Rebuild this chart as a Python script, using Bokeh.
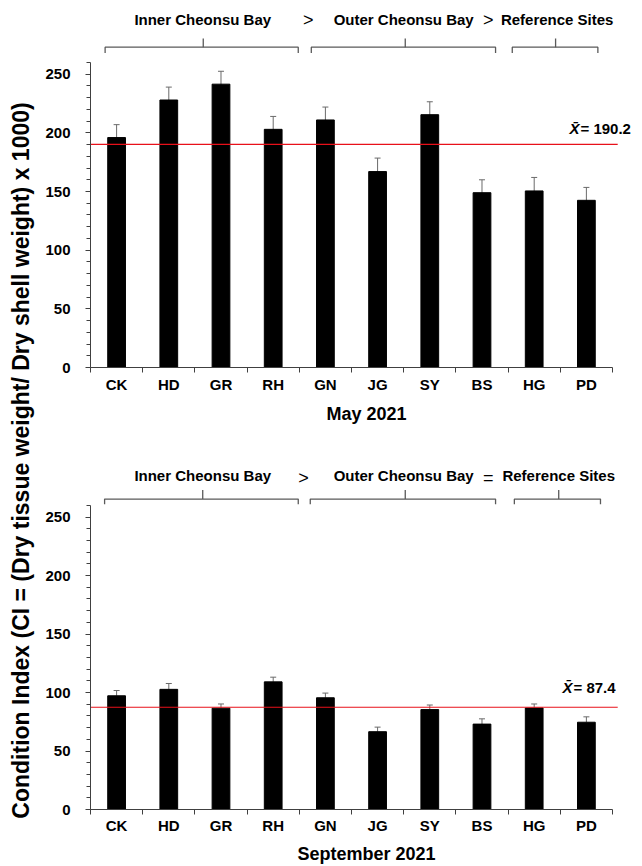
import numpy as np
from math import pi
from bokeh.plotting import figure
from bokeh.models import Range1d, FixedTicker, Whisker, TeeHead, ColumnDataSource, Label
from bokeh.layouts import row, column
from bokeh.core.properties import value
from bokeh.embed import file_html
from bokeh.resources import INLINE

# ---------------- data ----------------
sites = ["CK", "HD", "GR", "RH", "GN", "JG", "SY", "BS", "HG", "PD"]
may_ci = [196, 228, 241.5, 203, 211, 167, 215.5, 149, 150.5, 142.5]
may_err = [11, 11, 11, 11, 11, 11.5, 11, 11, 11.5, 11]
may_mean = 190.2
sep_ci = [97.2, 102.7, 86.6, 109.1, 95.5, 66.5, 85.4, 73.0, 86.8, 74.6]
sep_err = [4.5, 5.0, 3.6, 4.0, 4.0, 3.9, 3.9, 4.5, 3.4, 4.6]
sep_mean = 87.4
y_ticks = [0, 50, 100, 150, 200, 250]
groups = ["Inner Cheonsu Bay", "Outer Cheonsu Bay", "Reference Sites"]
may_signs = [">", ">"]
sep_signs = [">", "="]
y_label = "Condition Index (CI = (Dry tissue weight/ Dry shell weight) x 1000)"

FONT = "Liberation Sans"
AXIS_COLOR = "#404040"
BRACKET_COLOR = "#5a5a5a"
ERR_COLOR = "#6a6a6a"


def panel(vals, errs, mean, xlabel, signs, height, border_top, border_bottom, lab_standoff,
          axlab_standoff, ann, lower_err, mean_xoff, mean_yoff):
    n = len(sites)
    centers = list(np.arange(n) + 0.5)
    p = figure(width=604, height=height, x_range=Range1d(0, n + 0.575), y_range=Range1d(0, 306),
               min_border_left=52, min_border_right=0, min_border_top=border_top,
               min_border_bottom=border_bottom, toolbar_location=None,
               output_backend="svg", outline_line_color=None)
    p.grid.visible = False
    src = ColumnDataSource(dict(x=centers, top=vals,
                                upper=[v + e for v, e in zip(vals, errs)],
                                lower=[v - e for v, e in zip(vals, errs)] if lower_err else vals))
    p.vbar(x="x", top="top", width=0.34, source=src, fill_color="black", line_color="black")
    w = Whisker(base="x", upper="upper", lower="lower", source=src, line_color=ERR_COLOR,
                line_width=1,
                upper_head=TeeHead(size=6, line_color=ERR_COLOR, line_width=1),
                lower_head=TeeHead(size=6, line_color=ERR_COLOR, line_width=1) if lower_err else None)
    p.add_layout(w)
    # mean line from the y axis to just past the last category
    p.segment(x0=[0], x1=[n + 0.1], y0=[mean], y1=[mean], line_color="#e8101a", line_width=1.2)
    p.add_layout(Label(x=n, y=mean, text="X\u0304", text_align="left",
                       text_baseline="bottom", x_offset=mean_xoff, y_offset=mean_yoff,
                       text_font=FONT, text_font_size="15px", text_font_style="bold italic",
                       text_color="black"))
    p.add_layout(Label(x=n, y=mean, text="= " + f"{mean}", text_align="left",
                       text_baseline="bottom", x_offset=mean_xoff + 11, y_offset=mean_yoff,
                       text_font=FONT, text_font_size="15px", text_font_style="bold",
                       text_color="black"))

    # x axis: labels at centres, ticks at category boundaries
    xa = p.xaxis[0]
    xa.ticker = FixedTicker(ticks=centers, minor_ticks=list(range(n + 1)))
    xa.major_label_overrides = {c: s for c, s in zip(centers, sites)}
    xa.bounds = (0, n)
    xa.major_tick_in = 0
    xa.major_tick_out = 0
    xa.minor_tick_in = 0
    xa.minor_tick_out = 5
    xa.major_label_standoff = lab_standoff
    xa.axis_label = xlabel
    xa.axis_label_standoff = axlab_standoff
    ya = p.yaxis[0]
    ya.ticker = FixedTicker(ticks=y_ticks, minor_ticks=list(range(0, 261, 10)))
    ya.bounds = (0, 260)
    ya.major_tick_in = 0
    ya.major_tick_out = 5
    ya.minor_tick_in = 0
    ya.minor_tick_out = 4
    ya.major_label_standoff = 15
    for a in (xa, ya):
        a.axis_line_color = AXIS_COLOR
        a.major_tick_line_color = AXIS_COLOR
        a.minor_tick_line_color = AXIS_COLOR
        a.major_label_text_font = FONT
        a.major_label_text_font_size = "15px"
        a.major_label_text_font_style = "bold"
        a.major_label_text_color = "black"
        a.axis_label_text_font = FONT
        a.axis_label_text_font_size = "18px"
        a.axis_label_text_font_style = "bold"
        a.axis_label_text_color = "black"

    # group brackets above the bars
    xs, ys = [], []
    for (x0, x1, xm) in ann["brackets"]:
        xs.append([x0, x0, x1, x1])
        ys.append([ann["leg"], ann["bar"], ann["bar"], ann["leg"]])
        xs.append([xm, xm])
        ys.append([ann["bar"], ann["tick"]])
    p.multi_line(xs=xs, ys=ys, line_color=BRACKET_COLOR, line_width=1.3)
    p.text(x=ann["text_x"], y=[ann["text_y"]] * 3, text=groups,
           text_font=value(FONT), text_font_size=value("15px"), text_font_style=value("bold"),
           text_align="center", text_baseline="middle", text_color="black")
    p.text(x=ann["sign_x"], y=[ann["sign_y"]] * 2, text=signs,
           text_font=value(FONT), text_font_size=value("18px"),
           text_align="center", text_baseline="middle", text_color="black")
    return p


ann_may = dict(brackets=[(0.28, 3.98, 2.16), (4.23, 7.76, 6.03), (8.08, 9.72, 8.91)],
               leg=268, bar=273, tick=280.5, text_x=[2.15, 6.0, 8.94], text_y=296.7,
               sign_x=[4.17, 7.62], sign_y=296.0)
ann_sep = dict(brackets=[(0.27, 3.98, 2.15), (4.21, 7.76, 6.03), (8.12, 9.77, 8.97)],
               leg=261, bar=265.3, tick=273, text_x=[2.15, 6.0, 8.97], text_y=285.6,
               sign_x=[4.08, 7.62], sign_y=283.5)

p1 = panel(may_ci, may_err, may_mean, "May 2021", may_signs, 451, 8, 84, 3, 8, ann_may, True, -43, 7)
p2 = panel(sep_ci, sep_err, sep_mean, "September 2021", sep_signs, 415, 0, 56, 2, 7, ann_sep, False, -50, 11)

lab = figure(width=38, height=866, x_range=Range1d(0, 38), y_range=Range1d(0, 866),
             x_axis_type=None, y_axis_type=None, min_border=0, toolbar_location=None,
             output_backend="svg", outline_line_color=None)
lab.grid.visible = False
lab.add_layout(Label(x=20, y=406, angle=pi / 2, text=y_label, text_align="center",
                     text_baseline="middle", text_font=FONT, text_font_size="23px",
                     text_font_style="bold", text_color="black"))

layout = row(lab, column(p1, p2))
open("out.html", "w").write(file_html(layout, INLINE))
